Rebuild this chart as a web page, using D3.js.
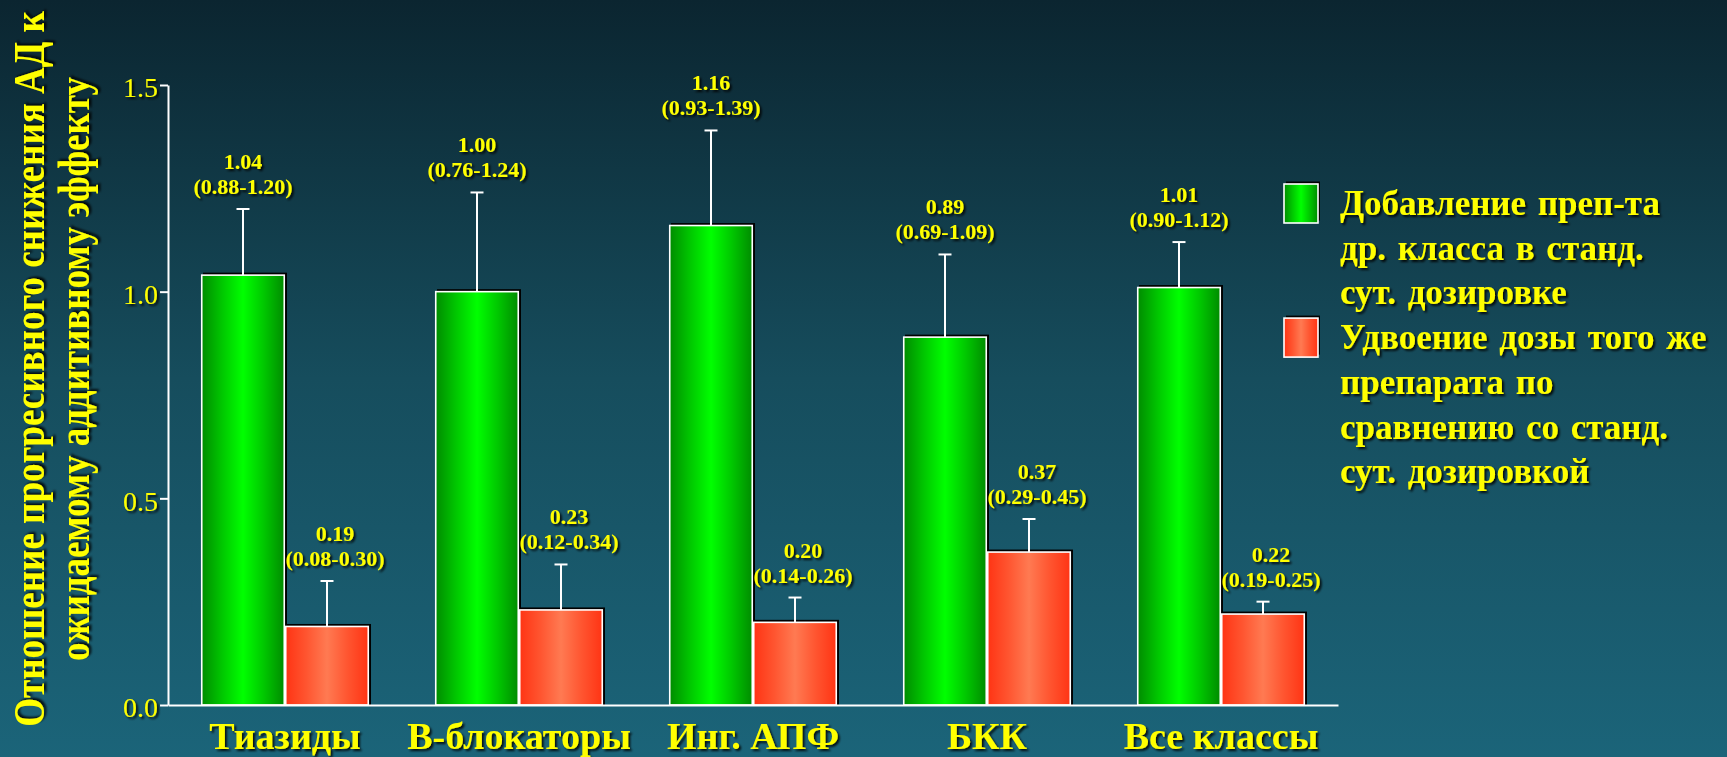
<!DOCTYPE html>
<html>
<head>
<meta charset="utf-8">
<script src="https://cdn.jsdelivr.net/npm/d3@7"></script>
<style>
  html, body { margin: 0; padding: 0; background: #123c4a; }
  svg { display: block; }
</style>
</head>
<body>
<svg id="chart" width="1727" height="757"></svg>
<script>
// Drug classes along the x axis
const categories = ["Тиазиды", "В-блокаторы", "Инг. АПФ", "БКК", "Все классы"];

// Series 1: adding a drug of another class at standard daily dose
const addValues = [1.04, 1.00, 1.16, 0.89, 1.01];
const addLow    = [0.88, 0.76, 0.93, 0.69, 0.90];
const addHigh   = [1.20, 1.24, 1.39, 1.09, 1.12];

// Series 2: doubling the dose of the same drug
const dblValues = [0.19, 0.23, 0.20, 0.37, 0.22];
const dblLow    = [0.08, 0.12, 0.14, 0.29, 0.19];
const dblHigh   = [0.30, 0.34, 0.26, 0.45, 0.25];

const yTicks = [0.0, 0.5, 1.0, 1.5];

const seriesKeys = ["add", "dbl"];
const legendLines = [
  ["Добавление преп-та", "др. класса в станд.", "сут. дозировке"],
  ["Удвоение дозы того же", "препарата по", "сравнению со станд.", "сут. дозировкой"]
];
const yTitleLines = [
  "Отношение прогресивного снижения АД к",
  "ожидаемому аддитивному эффекту"
];

const W = 1727, H = 757;
const YELLOW = "#ffff00";
const SERIF = "'Liberation Serif', 'Times New Roman', serif";
const svg = d3.select("#chart");
const defs = svg.append("defs");

// Background: vertical teal gradient
const bg = defs.append("linearGradient").attr("id", "bg")
  .attr("x1", 0).attr("y1", 0).attr("x2", 0).attr("y2", 1);
bg.append("stop").attr("offset", "0%").attr("stop-color", "#0b2530");
bg.append("stop").attr("offset", "50%").attr("stop-color", "#164d5d");
bg.append("stop").attr("offset", "100%").attr("stop-color", "#1b6479");
svg.append("rect").attr("width", W).attr("height", H).attr("fill", "url(#bg)");

// Bar fills: horizontal gradients, dark edges and light centre
function barGradient(id, edge, mid, centre) {
  const g = defs.append("linearGradient").attr("id", id)
    .attr("x1", 0).attr("y1", 0).attr("x2", 1).attr("y2", 0);
  g.append("stop").attr("offset", "0%").attr("stop-color", edge);
  g.append("stop").attr("offset", "25%").attr("stop-color", mid);
  g.append("stop").attr("offset", "50%").attr("stop-color", centre);
  g.append("stop").attr("offset", "75%").attr("stop-color", mid);
  g.append("stop").attr("offset", "100%").attr("stop-color", edge);
}
barGradient("gGreen", "#008c00", "#00c800", "#00ff00");
barGradient("gRed", "#ff3414", "#ff5530", "#ff7a52");
const fills = { add: "url(#gGreen)", dbl: "url(#gRed)" };

// Drop shadow for yellow text
const sh = defs.append("filter").attr("id", "shadow")
  .attr("x", "-20%").attr("y", "-20%").attr("width", "140%").attr("height", "140%");
sh.append("feDropShadow").attr("dx", 2).attr("dy", 2).attr("stdDeviation", 1)
  .attr("flood-color", "#000").attr("flood-opacity", 0.85);

// Scales
const x0 = d3.scaleBand().domain(categories).range([168, 1338])
  .paddingInner(0.282).paddingOuter(0.141);
const x1 = d3.scaleBand().domain(seriesKeys).range([0, x0.bandwidth()]).padding(0);
const y = d3.scaleLinear().domain([0, 1.5]).range([705, 85]);

const rows = categories.map((c, i) => ({
  cat: c,
  bars: [
    { key: "add", v: addValues[i], lo: addLow[i], hi: addHigh[i] },
    { key: "dbl", v: dblValues[i], lo: dblLow[i], hi: dblHigh[i] }
  ]
}));

// Bars
const groups = svg.append("g").selectAll("g").data(rows).join("g")
  .attr("transform", d => `translate(${x0(d.cat)},0)`);

const bars = groups.selectAll("g.bar").data(d => d.bars).join("g").attr("class", "bar");
// dark offset edge behind each bar
bars.append("rect")
  .attr("x", d => x1(d.key) + 2).attr("y", d => y(d.v) - 2.5)
  .attr("width", x1.bandwidth()).attr("height", d => y(0) - y(d.v) + 2.5)
  .attr("fill", "#000");
bars.append("rect")
  .attr("x", d => x1(d.key) + 0.75).attr("y", d => y(d.v))
  .attr("width", x1.bandwidth() - 1.5).attr("height", d => y(0) - y(d.v))
  .attr("fill", d => fills[d.key])
  .attr("stroke", "#ffffff").attr("stroke-width", 1.6);

// Upper error whiskers
const capHalf = 6.5;
const cx = d => x1(d.key) + x1.bandwidth() / 2;
bars.append("line")
  .attr("x1", cx).attr("x2", cx)
  .attr("y1", d => y(d.v)).attr("y2", d => y(d.hi))
  .attr("stroke", "#fff").attr("stroke-width", 2);
bars.append("line")
  .attr("x1", d => cx(d) - capHalf).attr("x2", d => cx(d) + capHalf)
  .attr("y1", d => y(d.hi)).attr("y2", d => y(d.hi))
  .attr("stroke", "#fff").attr("stroke-width", 2);

// Value labels with confidence intervals
const labelShift = { add: 0, dbl: 8 };
const lbl = bars.append("text")
  .attr("text-anchor", "middle")
  .attr("font-family", SERIF)
  .attr("font-weight", "bold").attr("font-size", 22)
  .attr("fill", YELLOW).attr("filter", "url(#shadow)");
lbl.append("tspan")
  .attr("x", d => cx(d) + labelShift[d.key])
  .attr("y", d => y(d.hi) - 40)
  .text(d => d.v.toFixed(2));
lbl.append("tspan")
  .attr("x", d => cx(d) + labelShift[d.key])
  .attr("y", d => y(d.hi) - 15)
  .text(d => `(${d.lo.toFixed(2)}-${d.hi.toFixed(2)})`);

// Y axis
const yAxis = svg.append("g").attr("transform", "translate(168,0)")
  .call(d3.axisLeft(y).tickValues(yTicks).tickFormat(d3.format(".1f"))
    .tickSize(8).tickSizeOuter(0).tickPadding(2));
yAxis.select(".domain").attr("stroke", "#fff").attr("stroke-width", 2);
yAxis.selectAll(".tick line").attr("stroke", "#fff").attr("stroke-width", 2);
yAxis.selectAll(".tick text")
  .attr("font-family", SERIF)
  .attr("font-size", 28).attr("fill", YELLOW).attr("dy", "0.42em")
  .attr("filter", "url(#shadow)");

// X axis
const xAxis = svg.append("g").attr("transform", `translate(0,${y(0)})`)
  .call(d3.axisBottom(x0).tickSize(0).tickSizeOuter(0).tickPadding(17));
xAxis.select(".domain").attr("stroke", "#fff").attr("stroke-width", 2);
xAxis.selectAll(".tick text")
  .attr("font-family", SERIF)
  .attr("font-weight", "bold").attr("font-size", 38).attr("fill", YELLOW)
  .attr("filter", "url(#shadow)");

// Y axis title: two rotated lines, sized to their run length and
// stretched across the reading direction for tall glyphs
const titleLen = [716, 584];
const titleGlyph = 44;
svg.append("g").selectAll("text").data(yTitleLines).join("text")
  .attr("text-anchor", "middle")
  .attr("font-family", SERIF)
  .attr("font-weight", "bold").attr("font-size", titleGlyph)
  .attr("fill", YELLOW).attr("filter", "url(#shadow)")
  .text(d => d)
  .each(function (d, i) {
    const natural = this.getComputedTextLength();
    const fs = titleGlyph * titleLen[i] / natural;
    d3.select(this).attr("font-size", fs)
      .attr("transform", `translate(${44 + i * 45},369) rotate(-90) scale(1,${titleGlyph / fs})`);
  });

// Legend
const lineH = 44.7;
const legend = svg.append("g");
let lineIdx = 0;
legendLines.forEach((lines, k) => {
  const top = 215 + lineIdx * lineH;
  const key = seriesKeys[k];
  legend.append("rect").attr("x", 1286).attr("y", top - 33.5)
    .attr("width", 34).attr("height", 39).attr("fill", "#000");
  legend.append("rect").attr("x", 1284).attr("y", top - 31)
    .attr("width", 34).attr("height", 39)
    .attr("fill", fills[key]).attr("stroke", "#fff").attr("stroke-width", 1.6);
  lines.forEach((t, j) => {
    legend.append("text")
      .attr("x", 1340).attr("y", 215 + (lineIdx + j) * lineH)
      .attr("font-family", SERIF)
      .attr("font-weight", "bold").attr("font-size", 35)
      .attr("word-spacing", 3)
      .attr("fill", YELLOW).attr("filter", "url(#shadow)")
      .text(t);
  });
  lineIdx += lines.length;
});
</script>
</body>
</html>
